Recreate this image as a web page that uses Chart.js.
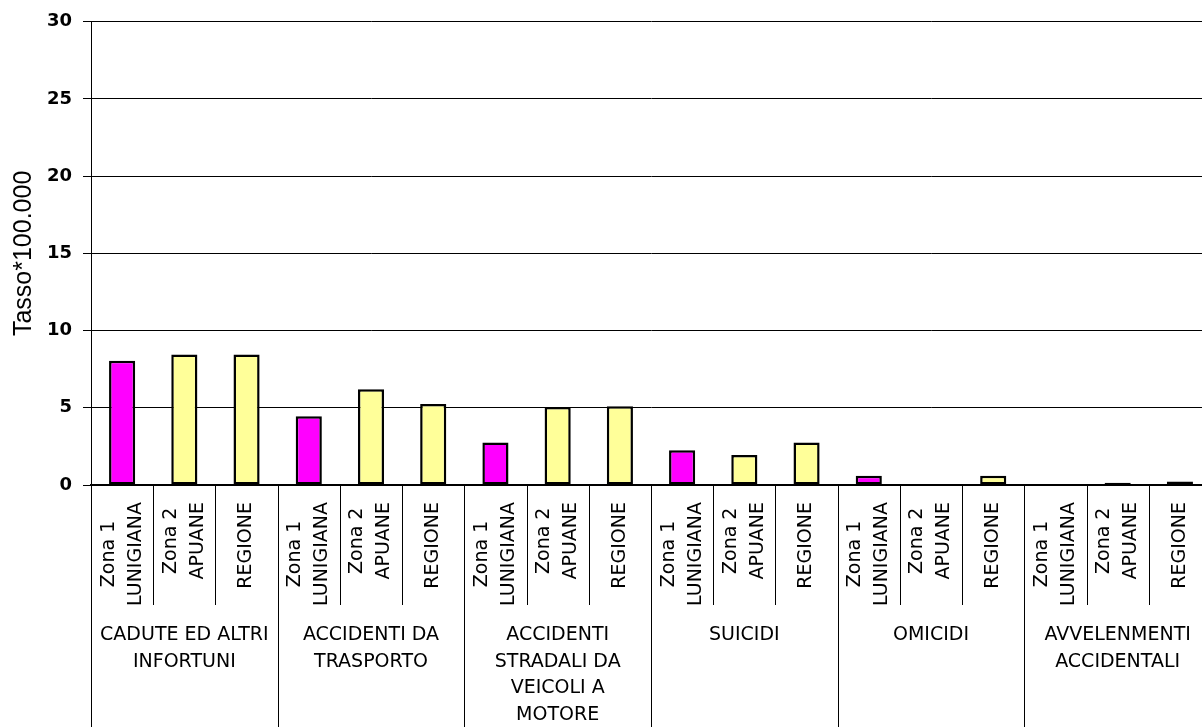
<!DOCTYPE html>
<html>
<head>
<meta charset="utf-8">
<script src="https://cdn.jsdelivr.net/npm/chart.js@4"></script>
<style>
  html, body { margin: 0; padding: 0; background: #fff; overflow: hidden; }
  #wrap { width: 1202px; height: 727px; overflow: hidden; }
</style>
</head>
<body>
<div id="wrap"><canvas id="chart" width="1211" height="727"></canvas></div>
<script>
// Cause groups (multi-line, as printed under the axis)
const groups = [
  ["CADUTE ED ALTRI", "INFORTUNI"],
  ["ACCIDENTI DA", "TRASPORTO"],
  ["ACCIDENTI", "STRADALI DA", "VEICOLI A", "MOTORE"],
  ["SUICIDI"],
  ["OMICIDI"],
  ["AVVELENMENTI", "ACCIDENTALI"],
];

// Areas repeated inside each group
const areas = [["Zona 1", "LUNIGIANA"], ["Zona 2", "APUANE"], ["REGIONE"]];
const areaColors = ["#FF00FF", "#FFFF99", "#FFFF99"];

// Rate * 100.000, one per bar (group x area)
const rates = [8.05, 8.45, 8.45, 4.45, 6.2, 5.25, 2.75, 5.05, 5.1, 2.25, 1.95, 2.75, 0.6, 0, 0.6, 0, 0.15, 0.22];

// Y axis
const yMin = 0, yMax = 30, yStep = 5;

const labels = [];
const colors = [];
groups.forEach(() => {
  areas.forEach((a, j) => {
    labels.push(a);
    colors.push(areaColors[j]);
  });
});

// draws the two-level category axis (rotated area names + group names + separators)
const categoryAxis = {
  id: "categoryAxis",
  afterDraw(chart) {
    const ctx = chart.ctx, x = chart.scales.x, area = chart.chartArea;
    const slot = (area.right - area.left) / labels.length;
    const base = area.bottom;
    ctx.save();
    ctx.strokeStyle = "#000";
    ctx.lineWidth = 1;
    for (let i = 0; i <= labels.length; i++) {
      const px = Math.round(area.left + i * slot) + 0.5;
      const end = i % areas.length === 0 ? chart.height : base + 120;
      ctx.beginPath();
      ctx.moveTo(px, base);
      ctx.lineTo(px, end);
      ctx.stroke();
    }

    ctx.fillStyle = "#000";
    ctx.font = '19px "DejaVu Sans"';
    ctx.textBaseline = "middle";
    ctx.textAlign = "center";
    labels.forEach((lines, i) => {
      const cx = x.getPixelForValue(i);
      const len = Math.max(...lines.map(l => ctx.measureText(l).width));
      const cy = base + 17 + len / 2;
      lines.forEach((l, j) => {
        const lx = cx + (j - (lines.length - 1) / 2) * 27;
        ctx.save();
        ctx.translate(lx, cy);
        ctx.rotate(-Math.PI / 2);
        ctx.fillText(l, 0, 0);
        ctx.restore();
      });
    });

    groups.forEach((lines, g) => {
      const n = areas.length;
      const cx = (x.getPixelForValue(g * n) + x.getPixelForValue(g * n + n - 1)) / 2;
      lines.forEach((l, j) => {
        ctx.fillText(l, cx, base + 150 + j * 26.7);
      });
    });
    ctx.restore();
  },
};

new Chart(document.getElementById("chart"), {
  type: "bar",
  plugins: [categoryAxis],
  data: {
    labels: labels,
    datasets: [
      {
        data: rates,
        backgroundColor: colors,
        borderColor: "#000",
        borderWidth: 2.5,
        borderSkipped: false,
        barPercentage: 0.42,
        categoryPercentage: 1,
      },
    ],
  },
  options: {
    responsive: false,
    animation: false,
    layout: { padding: { top: 21, left: 0, right: 0, bottom: 0 } },
    plugins: { legend: { display: false }, tooltip: { enabled: false } },
    scales: {
      x: {
        offset: true,
        grid: { display: false },
        ticks: { display: false },
        border: { display: true, color: "#000", width: 2 },
        afterFit: (scale) => { scale.height = 242; },
      },
      y: {
        min: yMin,
        max: yMax,
        ticks: {
          stepSize: yStep,
          color: "#000",
          padding: 11,
          font: { family: "DejaVu Sans", size: 18, weight: "bold" },
        },
        grid: { color: "#000", lineWidth: 1, tickLength: 8, drawTicks: true },
        border: { display: true, color: "#000", width: 1 },
        title: {
          display: true,
          text: "Tasso*100.000",
          color: "#000",
          font: { family: "Liberation Sans", size: 25 },
          padding: { top: 9, bottom: 0 },
        },
        afterFit: (scale) => { scale.width = 91; },
      },
    },
  },
});
</script>
</body>
</html>
